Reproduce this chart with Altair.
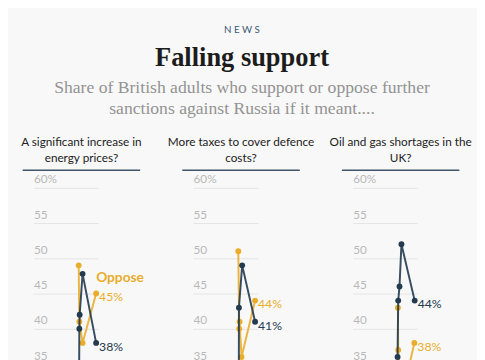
import altair as alt
import pandas as pd

# ---------------- data ----------------
kicker = "N E W S"
headline = "Falling support"
subtitle_lines = ["Share of British adults who support or oppose further",
                  "sanctions against Russia if it meant...."]
panel_titles = ["A significant increase in\nenergy prices?",
                "More taxes to cover defence\ncosts?",
                "Oil and gas shortages in the\nUK?"]
series_names = ["Support", "Oppose"]

support_days = [[70.5, 71, 71.5, 76, 97], [70.8, 71, 76, 96], [69.5, 70.5, 72.5, 75.5, 96]]
support_values = [[30, 40, 42, 47.8, 38], [30, 43, 49, 41], [36, 44, 46, 52, 44]]
oppose_days = [[70, 71, 76, 97], [70, 71.5, 72, 75, 96], [70, 70.5, 75.5, 95.5]]
oppose_values = [[49, 41, 38, 45], [51, 40, 41, 36, 44], [43, 37, 30, 38]]
y_ticks = [25, 30, 35, 40, 45, 50, 55, 60]

NAVY = "#243a4f"
GOLD = "#e9ad2b"
BG = "#f8f8f8"

rows = []
for p in range(3):
    for name, days, vals in [("Support", support_days[p], support_values[p]),
                             ("Oppose", oppose_days[p], oppose_values[p])]:
        for j, (d, v) in enumerate(zip(days, vals)):
            rows.append({"panel": p, "series": name, "day": d, "value": v,
                         "last": j == len(days) - 1, "label": f"{v:.0f}%"})
data = pd.DataFrame(rows)

x_enc = alt.X("day:Q", scale=alt.Scale(domain=[0, 100]), axis=None)
y_enc = alt.Y("value:Q", scale=alt.Scale(domain=[25, 60]),
              axis=alt.Axis(values=y_ticks, grid=True, domain=False, ticks=False,
                            labelAlign="left", labelBaseline="alphabetic",
                            labelOffset=-5, labelPadding=0,
                            labelExpr="datum.value == 60 ? '60%' : datum.label",
                            labelColor="#b8b8b8", labelFont="Lato", labelFontSize=12,
                            gridColor="#e3e3e3", gridWidth=1, title=None))


def panel(p):
    df = data[data.panel == p]
    base = alt.Chart(df)
    tdf = pd.DataFrame({"t": [panel_titles[p]]})
    layers = [
        alt.Chart(tdf).mark_rule(color="#3e556b", strokeWidth=1.6).encode(
            x=alt.value(-11), x2=alt.value(109), y=alt.value(-18)),
        alt.Chart(tdf).mark_text(align="center", baseline="alphabetic", lineBreak="\n",
                                 font="Lato", fontSize=12, lineHeight=17,
                                 color="#222222").encode(
            x=alt.value(49), y=alt.value(-43), text="t:N"),
    ]
    for name, color in [("Oppose", GOLD), ("Support", NAVY)]:
        s = base.transform_filter(alt.datum.series == name)
        layers.append(s.mark_line(color=color, strokeWidth=2, opacity=0.9).encode(x=x_enc, y=y_enc))
        layers.append(s.mark_circle(color=color, size=36, opacity=1).encode(x=x_enc, y=y_enc))
        layers.append(s.transform_filter(alt.datum.last).mark_text(
            align="left", baseline="middle", dx=3, dy=4, font="Lato", fontSize=12.5,
            color=color).encode(x=x_enc, y=y_enc, text="label:N"))
        if p == 0:
            layers.append(s.transform_filter(alt.datum.last).mark_text(
                align="left", baseline="middle", dx=0, dy=-16 if name == "Oppose" else 24,
                font="Lato", fontSize=14, fontWeight="bold",
                color=color).encode(x=x_enc, y=y_enc, text="series:N"))
    return alt.layer(*layers).properties(width=66, height=252)


hdf = pd.DataFrame({"k": [kicker], "h": [headline], "s1": [subtitle_lines[0]], "s2": [subtitle_lines[1]]})
hb = alt.Chart(hdf)
HX = 213
header = alt.layer(
    hb.mark_text(align="center", baseline="alphabetic", font="Lato", fontSize=10,
                 color="#3d5a78").encode(x=alt.value(HX), y=alt.value(21), text="k:N"),
    hb.mark_text(align="center", baseline="alphabetic", font="Liberation Serif", fontSize=27,
                 fontWeight="bold", color="#1c1c1c").encode(x=alt.value(HX), y=alt.value(55), text="h:N"),
    hb.mark_text(align="center", baseline="alphabetic", font="Liberation Serif", fontSize=18,
                 color="#939393").encode(x=alt.value(HX), y=alt.value(82), text="s1:N"),
    hb.mark_text(align="center", baseline="alphabetic", font="Liberation Serif", fontSize=18,
                 color="#939393").encode(x=alt.value(HX), y=alt.value(104), text="s2:N"),
).properties(width=420, height=120)

panels = alt.hconcat(panel(0), panel(1), panel(2), spacing=97, bounds="flush")

chart = alt.vconcat(header, panels, spacing=59, bounds="flush").properties(
    padding={"left": 13, "top": 0, "right": 5, "bottom": 5},
    background=BG,
).configure_view(stroke=None)

chart.save("out.html", embed_options={"renderer": "svg", "actions": False})
